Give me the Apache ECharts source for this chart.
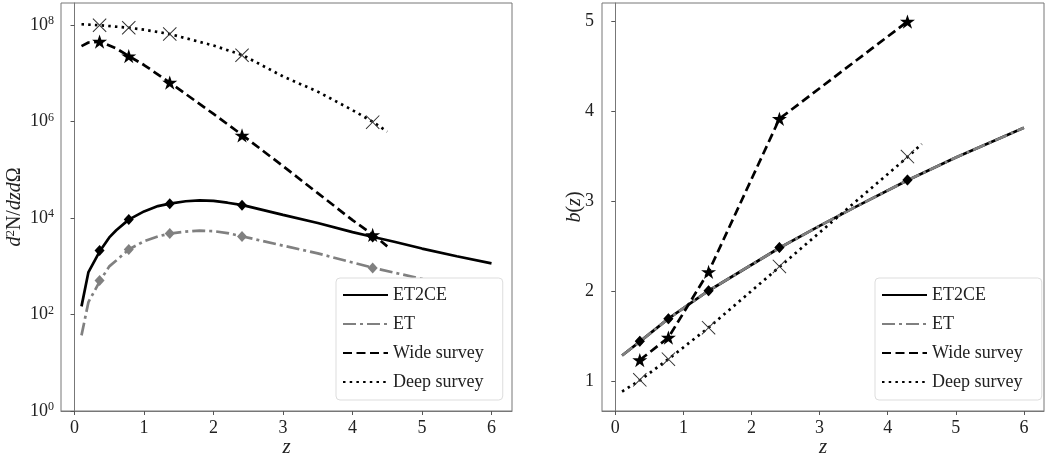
<!DOCTYPE html>
<html><head><meta charset="utf-8">
<script src="https://cdn.jsdelivr.net/npm/echarts@6/dist/echarts.min.js"></script>
<style>html,body{margin:0;padding:0;background:#fff}#c{width:1047px;height:454px}</style>
</head><body><div id="c"></div>
<script>
// ---------- data ----------
const legendNames = ['ET2CE', 'ET', 'Wide survey', 'Deep survey'];
const xTicks = [0, 1, 2, 3, 4, 5, 6];
const nTicks = [1, 1e2, 1e4, 1e6, 1e8];
const bTicks = [1, 2, 3, 4, 5];

// redshift bins where markers are drawn
const zBins = [0.36, 0.78, 1.37, 2.41, 4.29];

// Left panel: d2N/dzdOmega
const zCurveN = [0.1, 0.2, 0.37, 0.5, 0.6, 0.78, 1.0, 1.2, 1.37, 1.6, 1.8, 2.0, 2.2, 2.42, 3.0, 3.5, 4.0, 4.3, 4.6, 5.0, 5.5, 6.0];
const nET2CE = [148, 760, 2140, 3980, 5620, 9330, 13800, 17800, 20000, 22400, 23400, 22900, 20900, 18600, 11700, 7940, 5130, 4070, 3240, 2340, 1620, 1150];
const nET = [37, 182, 510, 1000, 1320, 2240, 3310, 4170, 4790, 5250, 5500, 5370, 4900, 4170, 2690, 1860, 1200, 930, 740, 550, 380, 257];

const zWideN = [0.1, 0.2, 0.37, 0.6, 0.78, 1.0, 1.37, 2.0, 2.42, 3.0, 3.5, 4.0, 4.3, 4.5];
const nWide = [3.7e7, 4.4e7, 4.6e7, 3.3e7, 2.3e7, 1.5e7, 6.5e6, 1.45e6, 5.2e5, 1.2e5, 3.3e4, 9.1e3, 4.5e3, 2.6e3];

const zDeepN = [0.1, 0.37, 0.78, 1.0, 1.37, 2.0, 2.42, 3.0, 3.5, 4.0, 4.3, 4.5];
const nDeep = [1.05e8, 1.0e8, 8.9e7, 8.1e7, 6.6e7, 3.8e7, 2.4e7, 8.7e6, 4.2e6, 1.74e6, 9.8e5, 6.2e5];

const nET2CEBins = [2140, 9330, 20000, 18600, 4070];
const nETBins = [510, 2240, 4790, 4170, 930];
const nWideBins = [4.6e7, 2.3e7, 6.5e6, 5.2e5, 4.5e3];
const nDeepBins = [1.0e8, 8.9e7, 6.6e7, 2.4e7, 9.8e5];

// Right panel: b(z)
const zCurveB = [0.1, 0.37, 0.78, 1.37, 2.42, 3.0, 3.5, 4.3, 5.0, 6.0];
const bET2CE = [1.29, 1.45, 1.70, 2.01, 2.49, 2.73, 2.93, 3.24, 3.49, 3.82];
const bET = [1.29, 1.45, 1.70, 2.01, 2.49, 2.73, 2.93, 3.24, 3.49, 3.82];
const zDeepB = [0.1, 0.37, 0.78, 1.37, 2.42, 4.3, 4.5];
const bDeep = [0.89, 1.02, 1.25, 1.60, 2.28, 3.50, 3.64];

const bET2CEBins = [1.45, 1.70, 2.01, 2.49, 3.24];
const bETBins = [1.45, 1.70, 2.01, 2.49, 3.24];
const bWideBins = [1.24, 1.49, 2.22, 3.92, 5.0];
const bDeepBins = [1.02, 1.25, 1.60, 2.28, 3.50];

// ---------- styling ----------
const FONT = '"Liberation Serif", "DejaVu Serif", serif';
const TXT = '#222';
const GRAY = '#808080';
const STAR = 'path://M0,-100L22.45,-30.9L95.1,-30.9L36.33,11.8L58.78,80.9L0,38.2L-58.78,80.9L-36.33,11.8L-95.1,-30.9L-22.45,-30.9Z';
const XMARK = 'path://M0,5L5,0L50,45L95,0L100,5L55,50L100,95L95,100L50,55L5,100L0,95L45,50Z';

const pairs = (xs, ys) => xs.map((x, i) => [x, ys[i]]);

const styles = {
  'ET2CE': { color: '#000', type: 'solid' },
  'ET': { color: GRAY, type: [13, 4, 3, 4] },
  'Wide survey': { color: '#000', type: [9, 4.5] },
  'Deep survey': { color: '#000', type: [2.5, 4.2] }
};

function lineSeries(name, data, xi, yi, z) {
  const s = styles[name];
  return {
    name: name, type: 'line', xAxisIndex: xi, yAxisIndex: yi, data: data,
    symbol: 'none', smooth: false, z: z, silent: true, animation: false,
    lineStyle: { color: s.color, width: 2.7, type: s.type, cap: 'butt' },
    itemStyle: { color: s.color }
  };
}
function markSeries(name, data, xi, yi, symbol, size, color, z, keep) {
  return {
    name: name, type: 'scatter', xAxisIndex: xi, yAxisIndex: yi, data: data,
    symbol: symbol, symbolSize: size, symbolKeepAspect: !!keep, z: z, silent: true, animation: false,
    itemStyle: { color: color, opacity: 1 }
  };
}

function xAxis(gi) {
  return {
    type: 'value', gridIndex: gi, min: -0.195, max: 6.295,
    name: 'z', nameLocation: 'middle', nameGap: 26, nameMoveOverlap: false,
    nameTextStyle: { fontFamily: FONT, fontStyle: 'italic', fontSize: 21, color: TXT },
    axisLine: { show: true, lineStyle: { color: '#777', width: 1 } },
    axisTick: { show: true, length: 4, customValues: xTicks, lineStyle: { color: '#555' } },
    axisLabel: { customValues: xTicks, margin: 8, fontFamily: FONT, fontSize: 18, color: TXT },
    splitLine: { show: false }
  };
}

const legendBase = {
  orient: 'vertical', itemWidth: 45, itemHeight: 14, itemGap: 11, itemSymbolGap: 6,
  backgroundColor: '#fff', borderColor: '#ddd', borderWidth: 1, borderRadius: 4,
  padding: [8, 19, 9, 6], data: legendNames, selectedMode: false,
  textStyle: { fontFamily: FONT, fontSize: 18, color: TXT, lineHeight: 18 },
  itemStyle: { opacity: 0 }
};

const option = {
  backgroundColor: '#fff',
  animation: false,
  grid: [
    { left: 61, top: 3, width: 451, height: 408, show: true, borderColor: '#777', borderWidth: 1, backgroundColor: 'transparent', containLabel: false, outerBoundsMode: 'none' },
    { left: 602, top: 3, width: 442, height: 408, show: true, borderColor: '#777', borderWidth: 1, backgroundColor: 'transparent', containLabel: false, outerBoundsMode: 'none' }
  ],
  xAxis: [xAxis(0), xAxis(1)],
  yAxis: [
    {
      type: 'log', logBase: 10, gridIndex: 0, min: 1, max: 2.9e8,
      name: '{i|d}{s|2}{r|N/}{i|dzd}{r|Ω}', nameLocation: 'middle', nameGap: 35, nameMoveOverlap: false,
      nameTextStyle: {
        color: TXT,
        rich: {
          i: { fontFamily: FONT, fontStyle: 'italic', fontSize: 20, color: TXT, lineHeight: 22 },
          r: { fontFamily: FONT, fontSize: 20, color: TXT, lineHeight: 22 },
          s: { fontFamily: FONT, fontSize: 13, color: TXT, verticalAlign: 'top', lineHeight: 13 }
        }
      },
      axisLine: { show: true, lineStyle: { color: '#777', width: 1 } },
      axisTick: { show: true, length: 4, customValues: nTicks, lineStyle: { color: '#555' } },
      axisLabel: {
        customValues: nTicks, margin: 7, color: TXT,
        formatter: function (v) {
          const e = Math.round(Math.log10(v));
          return '{b|10}{s|' + e + '}';
        },
        rich: {
          b: { fontFamily: FONT, fontSize: 18, color: TXT, lineHeight: 20 },
          s: { fontFamily: FONT, fontSize: 12, color: TXT, verticalAlign: 'top', lineHeight: 12 }
        }
      },
      splitLine: { show: false }
    },
    {
      type: 'value', gridIndex: 1, min: 0.674, max: 5.206,
      name: '{i|b}{r|(}{i|z}{r|)}', nameLocation: 'middle', nameGap: 17, nameMoveOverlap: false,
      nameTextStyle: {
        color: TXT,
        rich: {
          i: { fontFamily: FONT, fontStyle: 'italic', fontSize: 20, color: TXT },
          r: { fontFamily: FONT, fontSize: 20, color: TXT }
        }
      },
      axisLine: { show: true, lineStyle: { color: '#777', width: 1 } },
      axisTick: { show: true, length: 4, customValues: bTicks, lineStyle: { color: '#555' } },
      axisLabel: { customValues: bTicks, margin: 8, fontFamily: FONT, fontSize: 18, color: TXT },
      splitLine: { show: false }
    }
  ],
  legend: [
    Object.assign({}, legendBase, { left: 336, top: 278 }),
    Object.assign({}, legendBase, { left: 875, top: 278 })
  ],
  series: [
    // left panel
    lineSeries('ET2CE', pairs(zCurveN, nET2CE), 0, 0, 2),
    lineSeries('ET', pairs(zCurveN, nET), 0, 0, 2),
    lineSeries('Wide survey', pairs(zWideN, nWide), 0, 0, 2),
    lineSeries('Deep survey', pairs(zDeepN, nDeep), 0, 0, 2),
    markSeries('m1', pairs(zBins, nET2CEBins), 0, 0, 'diamond', [10, 11], '#000', 3),
    markSeries('m2', pairs(zBins, nETBins), 0, 0, 'diamond', [10, 11], GRAY, 3),
    markSeries('m3', pairs(zBins, nWideBins), 0, 0, STAR, 15, '#000', 4, true),
    markSeries('m4', pairs(zBins, nDeepBins), 0, 0, XMARK, 14, '#333', 4),
    // right panel
    lineSeries('ET2CE', pairs(zCurveB, bET2CE), 1, 1, 2),
    lineSeries('ET', pairs(zCurveB, bET), 1, 1, 2),
    lineSeries('Wide survey', pairs(zBins, bWideBins), 1, 1, 2),
    lineSeries('Deep survey', pairs(zDeepB, bDeep), 1, 1, 2),
    markSeries('m5', pairs(zBins, bETBins), 1, 1, 'diamond', [10, 11], GRAY, 3),
    markSeries('m6', pairs(zBins, bET2CEBins), 1, 1, 'diamond', [10, 11], '#000', 3),
    markSeries('m7', pairs(zBins, bWideBins), 1, 1, STAR, 15, '#000', 4, true),
    markSeries('m8', pairs(zBins, bDeepBins), 1, 1, XMARK, 14, '#333', 4)
  ]
};

const chart = echarts.init(document.getElementById('c'), null, { renderer: 'canvas' });
chart.setOption(option);
</script>
</body></html>
